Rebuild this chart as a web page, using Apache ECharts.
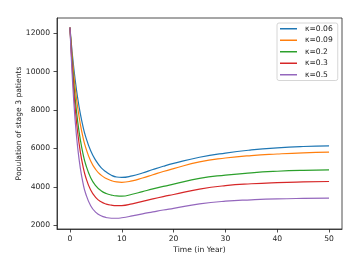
<!DOCTYPE html>
<html>
<head>
<meta charset="utf-8">
<script src="https://cdn.jsdelivr.net/npm/echarts@6/dist/echarts.min.js"></script>
<style>html,body{margin:0;padding:0;background:#fff}#c{width:362px;height:266px}</style>
</head>
<body>
<div id="c"></div>
<script>
var times = [0,0.5,1,1.5,2,2.5,3,4,5,6,7,8,9,10,12,14,16,18,20,25,30,35,40,45,50];
var seriesNames = ['κ=0.06','κ=0.09','κ=0.2','κ=0.3','κ=0.5'];
var k006 = [12300,10806,9590,8611,7813,7165,6643,5877,5367,5000,4770,4600,4510,4490,4570,4720,4900,5070,5220,5540,5760,5920,6030,6100,6136];
var k009 = [12300,10563,9195,8119,7271,6603,6082,5345,4889,4608,4433,4320,4255,4235,4310,4460,4630,4800,4950,5300,5500,5630,5710,5770,5803];
var k02  = [12300,10203,8610,7388,6459,5742,5203,4473,4046,3798,3652,3570,3525,3515,3610,3750,3890,4020,4140,4440,4610,4730,4810,4860,4885];
var k03  = [12300,9916,8130,6812,5822,5091,4540,3829,3437,3220,3100,3040,3015,3020,3110,3240,3370,3490,3600,3880,4060,4160,4220,4255,4276];
var k05  = [12300,9490,7470,6016,4970,4220,3680,3014,2669,2490,2400,2360,2360,2385,2480,2590,2690,2790,2880,3110,3250,3320,3370,3395,3407];
var xTicks = [0,10,20,30,40,50];
var yTicks = [2000,4000,6000,8000,10000,12000];
var colors = ['#1f77b4','#ff7f0e','#2ca02c','#d62728','#9467bd'];

var allVals = [k006,k009,k02,k03,k05];
var font = 'DejaVu Sans';
var fs = 7.6;
var series = allVals.map(function(vals, i){
  return {
    name: seriesNames[i], type:'line', showSymbol:false, symbol:'none',
    smooth:0.5,
    lineStyle:{color:colors[i], width:1.2},
    itemStyle:{color:colors[i]},
    data: times.map(function(t, j){ return [t, vals[j]]; }),
    animation:false
  };
});
var chart = echarts.init(document.getElementById('c'), null, {renderer:'canvas'});
chart.setOption({
  animation:false,
  backgroundColor:'#fff',
  grid:{left:57, right:20, top:18, bottom:37, show:true, borderColor:'#222', borderWidth:0.8, containLabel:false},
  legend:{
    orient:'vertical', left:277, top:23,
    data:seriesNames,
    icon:'rect', itemWidth:17, itemHeight:1.5, itemGap:0,
    padding:[0,5,0,3],
    borderColor:'#ccc', borderWidth:0.8, borderRadius:2, backgroundColor:'rgba(255,255,255,0.8)',
    textStyle:{fontFamily:font, fontSize:fs, color:'#222', lineHeight:11.5, padding:[0,0,0,3]}
  },
  xAxis:{
    type:'value', min:-2.5, max:52.5,
    name:'Time (in Year)', nameLocation:'middle', nameGap:17.5, nameMoveOverlap:false,
    nameTextStyle:{fontFamily:font, fontSize:fs, color:'#222'},
    axisLine:{show:true, onZero:false, lineStyle:{color:'#222', width:0.8}},
    axisTick:{show:true, customValues:xTicks, length:3.5, inside:false, lineStyle:{color:'#222', width:0.8}},
    axisLabel:{customValues:xTicks, fontFamily:font, fontSize:fs, color:'#222', margin:6, formatter:function(v){return String(v);}},
    splitLine:{show:false}
  },
  yAxis:{
    type:'value', min:1800, max:12800,
    name:'Population of stage 3 patients', nameLocation:'middle', nameGap:34, nameRotate:90, nameMoveOverlap:false,
    nameTextStyle:{fontFamily:font, fontSize:fs, color:'#222'},
    axisLine:{show:true, onZero:false, lineStyle:{color:'#222', width:0.8}},
    axisTick:{show:true, customValues:yTicks, length:3.5, inside:false, lineStyle:{color:'#222', width:0.8}},
    axisLabel:{customValues:yTicks, fontFamily:font, fontSize:fs, color:'#222', margin:7, formatter:function(v){return String(v);}},
    splitLine:{show:false}
  },
  series:series
});
</script>
</body>
</html>
